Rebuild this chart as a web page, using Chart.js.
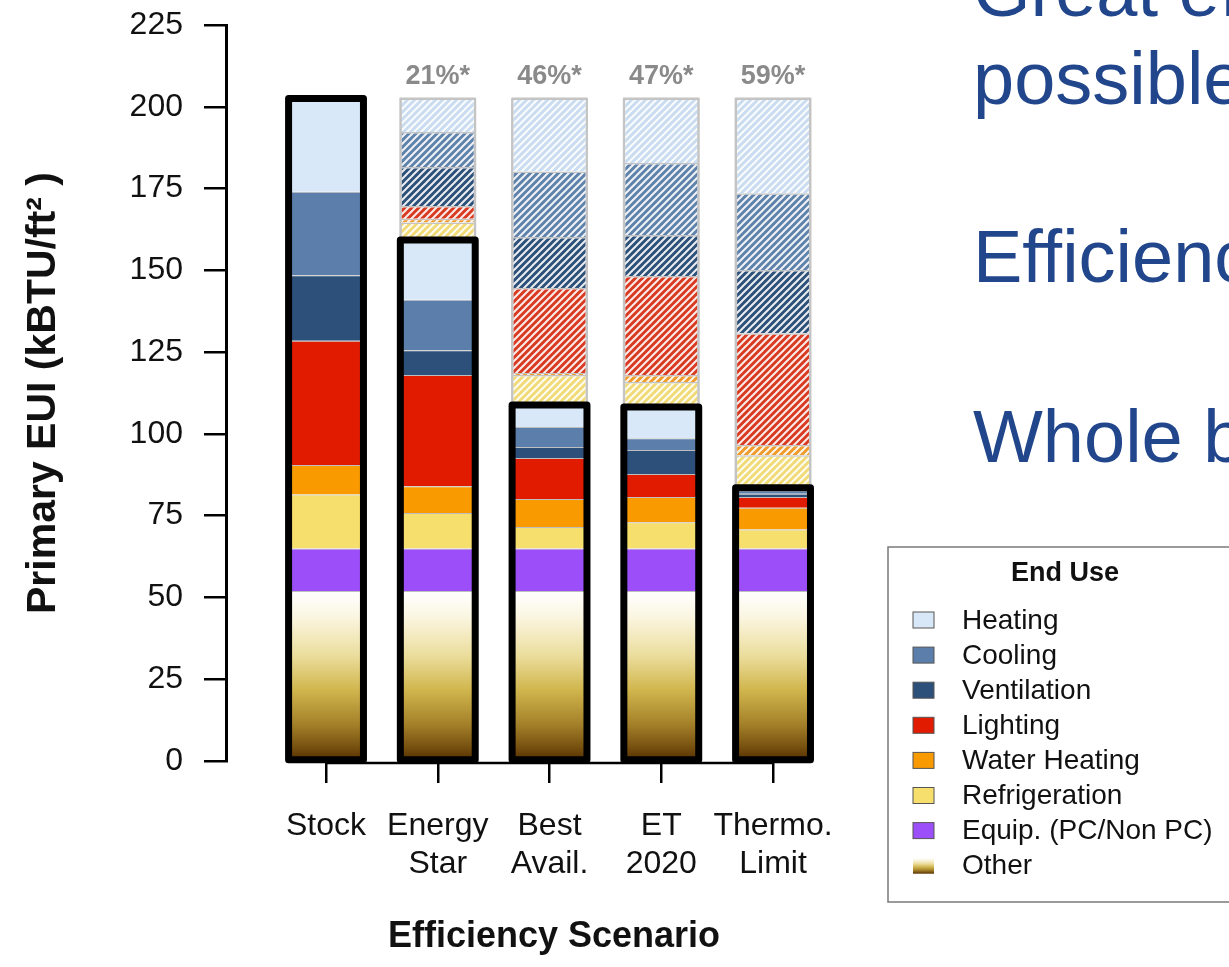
<!DOCTYPE html>
<html>
<head>
<meta charset="utf-8">
<script src="https://cdn.jsdelivr.net/npm/chart.js@4.4.1/dist/chart.umd.min.js"></script>
<style>
  html, body { margin: 0; padding: 0; background: #fff; overflow: hidden; }
  #wrap { position: relative; width: 1229px; height: 967px; overflow: hidden; }
  #eui-chart { position: absolute; left: 0; top: 0; }
  .slide-line {
    position: absolute; left: 973px;
    font-family: 'Liberation Sans', Arial, sans-serif;
    font-size: 74px; line-height: 74px; color: #21468c; white-space: nowrap;
  }
</style>
</head>
<body>
<div id="wrap">
  <canvas id="eui-chart" width="1229" height="967"></canvas>
  <div class="slide-line" style="top:-46px">Great efficiency</div>
  <div class="slide-line" style="top:42px">possible</div>
  <div class="slide-line" style="top:220px">Efficiency</div>
  <div class="slide-line" style="top:400px">Whole building</div>
</div>
<script>
// ---- data (kBTU/ft2) ----
const scenarioNames = [['Stock', ''], ['Energy', 'Star'], ['Best', 'Avail.'], ['ET', '2020'], ['Thermo.', 'Limit']];
const savingsLabels = ['', '21%*', '46%*', '47%*', '59%*'];
const yTickValues = [0, 25, 50, 75, 100, 125, 150, 175, 200, 225];

// remaining use per scenario (solid bars)
const otherEUI    = [52, 52, 52, 52, 52];
const equipEUI    = [13, 13, 13, 13, 13];
const refrigEUI   = [16.5, 10.8, 6.5, 8.0, 5.8];
const waterEUI    = [9.0, 8.2, 8.6, 7.7, 6.6];
const lightingEUI = [38.0, 34.0, 12.5, 7.0, 3.3];
const ventEUI     = [20.0, 7.6, 3.4, 7.4, 1.0];
const coolingEUI  = [25.5, 15.4, 6.1, 3.6, 1.0];
const heatingEUI  = [28.5, 18.3, 6.7, 9.5, 0.8];

// use saved versus stock (hatched bars on top)
const refrigSaved   = [0, 5.3, 9.2, 7.7, 10.0];
const waterSaved    = [0, 1.2, 0.6, 2.1, 3.1];
const lightingSaved = [0, 3.9, 26.0, 30.3, 34.2];
const ventSaved     = [0, 11.9, 15.6, 12.5, 19.3];
const coolingSaved  = [0, 10.7, 20.0, 22.0, 23.5];
const heatingSaved  = [0, 10.2, 22.3, 19.7, 28.9];

const FONT = '"Liberation Sans", Arial, Helvetica, sans-serif';

const palette = {
  heating: '#d9e8f8',
  cooling: '#5b7faa',
  ventilation: '#2c5079',
  lighting: '#e01b00',
  water: '#f89a00',
  refrig: '#f6df6c',
  equip: '#9c4ff8'
};
const hatchBase = {
  heating: '#c9dcf0',
  cooling: '#5f82ab',
  ventilation: '#2d5079',
  lighting: '#d93a22',
  water: '#f09a2a',
  refrig: '#f0db78'
};
// vertical ramp for "Other" (top -> bottom)
const otherStops = [
  [0, '#ffffff'], [0.15, '#fbf6e2'], [0.38, '#ebdd9c'],
  [0.58, '#d1b64e'], [0.78, '#a5822a'], [0.92, '#76500f'], [1, '#552f00']
];

function makeHatch(color) {
  const size = 7;
  const c = document.createElement('canvas');
  c.width = size; c.height = size;
  const g = c.getContext('2d');
  g.fillStyle = color;
  g.fillRect(0, 0, size, size);
  g.strokeStyle = 'rgba(255,255,255,0.9)';
  g.lineWidth = 2;
  g.beginPath();
  g.moveTo(-1, size + 1); g.lineTo(size + 1, -1);
  g.moveTo(-2, 2); g.lineTo(2, -2);
  g.moveTo(size - 2, size + 2); g.lineTo(size + 2, size - 2);
  g.stroke();
  return g.createPattern(c, 'repeat');
}

function otherGradient(ctx, top, bottom) {
  const grad = ctx.createLinearGradient(0, top, 0, bottom);
  otherStops.forEach(([p, col]) => grad.addColorStop(p, col));
  return grad;
}

function otherFill(context) {
  const chart = context.chart;
  const yScale = chart.scales.y;
  if (!chart.chartArea || !yScale || !context.parsed) return '#d1b64e';
  return otherGradient(chart.ctx, yScale.getPixelForValue(context.parsed.y), yScale.getPixelForValue(0));
}

const toPoints = (vals) => vals.map((v, i) => ({ x: i + 1, y: v }));

// bottom -> top stacking order
const solidSeries = [
  ['Other', otherEUI, otherFill],
  ['Equip. (PC/Non PC)', equipEUI, palette.equip],
  ['Refrigeration', refrigEUI, palette.refrig],
  ['Water Heating', waterEUI, palette.water],
  ['Lighting', lightingEUI, palette.lighting],
  ['Ventilation', ventEUI, palette.ventilation],
  ['Cooling', coolingEUI, palette.cooling],
  ['Heating', heatingEUI, palette.heating]
];
const savedSeries = [
  ['Refrigeration saved', refrigSaved, hatchBase.refrig],
  ['Water Heating saved', waterSaved, hatchBase.water],
  ['Lighting saved', lightingSaved, hatchBase.lighting],
  ['Ventilation saved', ventSaved, hatchBase.ventilation],
  ['Cooling saved', coolingSaved, hatchBase.cooling],
  ['Heating saved', heatingSaved, hatchBase.heating]
];

const datasets = [];
solidSeries.forEach(([label, vals, color]) => {
  datasets.push({
    label,
    data: toPoints(vals),
    backgroundColor: color,
    borderColor: 'rgba(70,70,70,0.35)',
    borderWidth: 1,
    borderSkipped: 'start'
  });
});
savedSeries.forEach(([label, vals, color]) => {
  datasets.push({
    label,
    data: toPoints(vals),
    backgroundColor: makeHatch(color),
    borderColor: '#c4c4c4',
    borderWidth: 1.5,
    borderSkipped: 'start'
  });
});

// thick black frame round the remaining use, grey frame round the saved part,
// percentage labels, and the R-style x axis line
const framesPlugin = {
  id: 'stackFrames',
  afterDatasetsDraw(chart) {
    const { ctx, scales: { x, y } } = chart;
    const baseEls = chart.getDatasetMeta(0).data;
    const solidTopEls = chart.getDatasetMeta(solidSeries.length - 1).data;
    const ghostTopEls = chart.getDatasetMeta(datasets.length - 1).data;
    const y0 = y.getPixelForValue(0);

    ctx.save();
    ctx.strokeStyle = '#000';
    ctx.lineWidth = 2.5;
    ctx.beginPath();
    ctx.moveTo(x.getPixelForValue(1), y0 + 2);
    ctx.lineTo(x.getPixelForValue(scenarioNames.length), y0 + 2);
    ctx.stroke();

    solidTopEls.forEach((el, i) => {
      const { x: cx, y: top, width } = el.getProps(['x', 'y', 'width'], true);
      const base = baseEls[i].getProps(['base'], true).base;
      const gTop = ghostTopEls[i].getProps(['y'], true).y;
      const left = cx - width / 2;

      if (gTop < top - 1) {
        ctx.strokeStyle = '#c4c4c4';
        ctx.lineWidth = 2;
        ctx.strokeRect(left, gTop, width, top - gTop);
        ctx.fillStyle = '#8a8a8a';
        ctx.font = 'bold 27px ' + FONT;
        ctx.textAlign = 'center';
        ctx.textBaseline = 'alphabetic';
        ctx.fillText(savingsLabels[i], cx, gTop - 15);
      }

      ctx.strokeStyle = '#000';
      ctx.lineWidth = 7;
      ctx.lineJoin = 'round';
      ctx.strokeRect(left, top, width, base - top);
    });
    ctx.restore();
  }
};

// boxed "End Use" legend on the right, heating first
const legendPlugin = {
  id: 'endUseLegend',
  afterDraw(chart) {
    const { ctx } = chart;
    const boxX = 888, boxY = 547, rowY = 620, rowStep = 35.1;
    ctx.save();
    ctx.strokeStyle = '#7a7a7a';
    ctx.lineWidth = 1.5;
    ctx.strokeRect(boxX, boxY, 400, 355);

    ctx.fillStyle = '#111';
    ctx.font = 'bold 27px ' + FONT;
    ctx.textAlign = 'center';
    ctx.textBaseline = 'alphabetic';
    ctx.fillText('End Use', 1065, 581);

    const items = solidSeries.slice().reverse();
    ctx.font = '28px ' + FONT;
    ctx.textAlign = 'left';
    ctx.textBaseline = 'middle';
    items.forEach(([label, , color], k) => {
      const cy = rowY + k * rowStep;
      const mx = 913, mw = 21, mh = 16;
      ctx.fillStyle = typeof color === 'function' ? otherGradient(ctx, cy - mh / 2, cy + mh / 2) : color;
      ctx.fillRect(mx, cy - mh / 2, mw, mh);
      if (typeof color !== 'function') {
        ctx.strokeStyle = '#555';
        ctx.lineWidth = 1;
        ctx.strokeRect(mx, cy - mh / 2, mw, mh);
      }
      ctx.fillStyle = '#111';
      ctx.fillText(label, 962, cy + 1);
    });
    ctx.restore();
  }
};

new Chart(document.getElementById('eui-chart'), {
  type: 'bar',
  data: { datasets },
  options: {
    responsive: false,
    animation: false,
    events: [],
    layout: { padding: { top: 25, right: 347, bottom: 4, left: 0 } },
    datasets: { bar: { categoryPercentage: 1, barPercentage: 0.67 } },
    plugins: {
      legend: { display: false },
      tooltip: { enabled: false }
    },
    scales: {
      x: {
        type: 'linear',
        stacked: true,
        offset: false,
        min: 0.105,
        max: 5.975,
        afterBuildTicks: (scale) => {
          scale.ticks = scenarioNames.map((_, i) => ({ value: i + 1 }));
        },
        afterFit: (scale) => {
          scale.height = 202;
          scale.paddingLeft = 0;
          scale.paddingRight = 0;
        },
        border: { display: false },
        grid: {
          offset: false,
          drawOnChartArea: false,
          drawTicks: true,
          tickLength: 22,
          color: '#000',
          lineWidth: 2.5
        },
        ticks: {
          autoSkip: false,
          maxRotation: 0,
          padding: 24,
          color: '#111',
          font: { family: FONT, size: 32 },
          callback: (value) => scenarioNames[value - 1]
        },
        title: {
          display: true,
          text: 'Efficiency Scenario',
          color: '#111',
          font: { family: FONT, size: 36, weight: 'bold' },
          padding: { bottom: 4 }
        }
      },
      y: {
        stacked: true,
        min: 0,
        max: 225,
        afterBuildTicks: (scale) => {
          scale.ticks = yTickValues.map((v) => ({ value: v }));
        },
        afterFit: (scale) => {
          scale.width = 226;
          scale.paddingTop = 0;
          scale.paddingBottom = 0;
        },
        border: { display: true, color: '#000', width: 3 },
        grid: {
          drawOnChartArea: false,
          drawTicks: true,
          tickLength: 22,
          color: '#000',
          lineWidth: 2.5
        },
        ticks: {
          padding: 21,
          color: '#111',
          font: { family: FONT, size: 32 }
        },
        title: {
          display: true,
          text: 'Primary EUI (kBTU/ft² )',
          color: '#111',
          font: { family: FONT, size: 41, weight: 'bold' },
          padding: { top: 19 }
        }
      }
    }
  },
  plugins: [framesPlugin, legendPlugin]
});
</script>
</body>
</html>
